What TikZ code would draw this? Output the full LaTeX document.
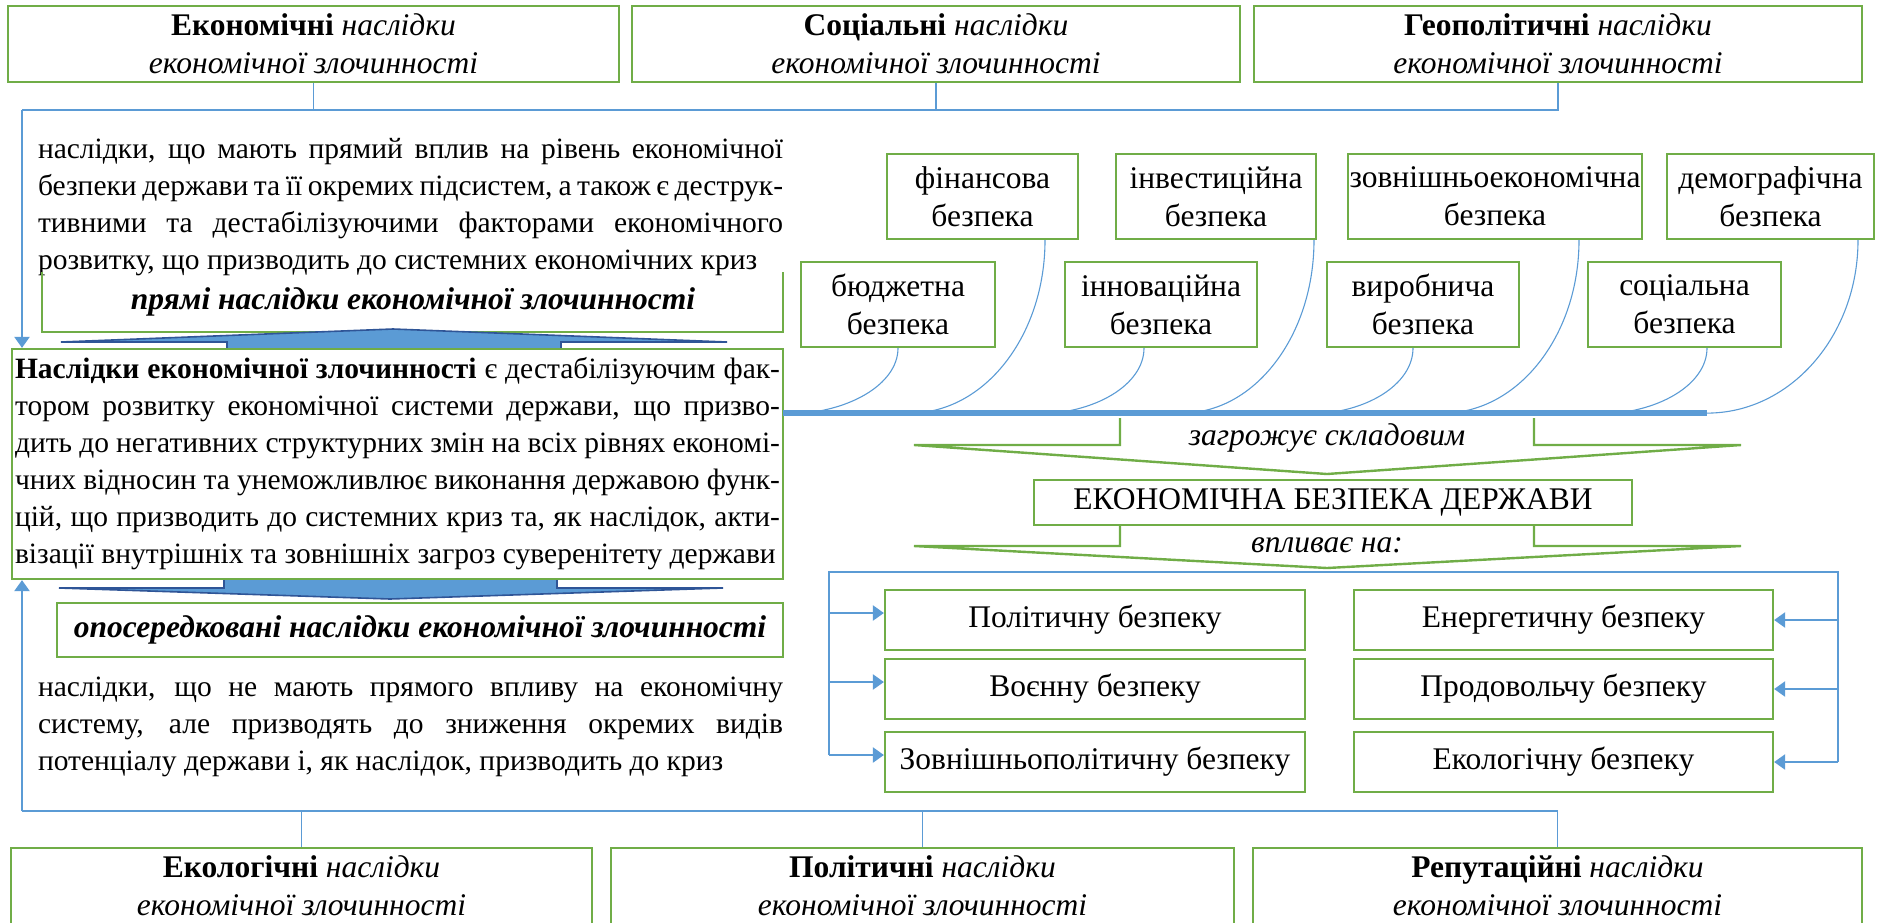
\documentclass[tikz,border=0pt]{standalone}
\usepackage{fontspec}
\setmainfont{Liberation Serif}
\usepackage{tikz}
\usetikzlibrary{arrows.meta,calc,positioning}
\definecolor{grn}{HTML}{70AD47}
\definecolor{blu}{HTML}{5B9BD5}
\definecolor{navy}{HTML}{2F5597}
\newcommand{\boxfs}{\fontsize{31.5}{38}\selectfont}
\newcommand{\parfs}{\fontsize{29.5}{37}\selectfont}
\newcommand{\jl}[2]{\makebox[#1][s]{#2}}
\tikzset{
  gbox/.style={draw=grn,line width=2.2pt,fill=white,align=center,inner sep=1pt,font=\boxfs},
  conn/.style={blu,line width=1.4pt},
  arr/.style={blu,line width=2.2pt,-{Triangle[length=11pt,width=15pt]}},
  spine/.style={blu,line width=6pt},
  branch/.style={blu,line width=1.1pt},
  gshape/.style={grn,line width=2.4pt,line join=miter},
  bshape/.style={fill=blu,draw=navy,line width=1.6pt}
}

\begin{document}
\begin{tikzpicture}[x=1pt,y=-1pt]
 \useasboundingbox (0,0) rectangle (1881,922);
 \node[gbox,minimum width=611pt,minimum height=76pt] (econ) at (313.5,44)
   {\textbf{Економічні} \textit{наслідки}\\\textit{економічної злочинності}};
 \node[gbox,minimum width=608pt,minimum height=76pt] (social) at (936,44)
   {\textbf{Соціальні} \textit{наслідки}\\\textit{економічної злочинності}};
 \node[gbox,minimum width=608pt,minimum height=76pt] (geo) at (1558,44)
   {\textbf{Геополітичні} \textit{наслідки}\\\textit{економічної злочинності}};

 \node[align=left,inner sep=0,font=\parfs] (directtxt) at (410.5,207)
   {\jl{745pt}{наслідки, що мають прямий вплив на рівень економічної}\\
    \jl{745pt}{безпеки держави та її окремих підсистем, а також є деструк-}\\
    \jl{745pt}{тивними та дестабілізуючими факторами економічного}\\
    розвитку, що призводить до системних економічних криз};
 \draw[grn,line width=2.2pt] (42,272) -- (42,332) -- (783,332) -- (783,272);
 \node[font=\boxfs\bfseries\itshape] (directlbl) at (413,302) {прямі наслідки економічної злочинності};

 \filldraw[bshape] (227,349) -- (227,342) -- (61,342) -- (393,329) -- (727,342) -- (561,342) -- (561,349) -- cycle;
 \filldraw[bshape] (224,579) -- (224,588) -- (59,588) -- (390,599) -- (723,588) -- (557,588) -- (557,579) -- cycle;

 \node[gbox,align=left,inner xsep=3pt,inner ysep=0pt,minimum width=771pt,minimum height=230pt,font=\parfs] (main) at (397.5,464)
   {\jl{765pt}{\textbf{Наслідки економічної злочинності} є дестабілізуючим фак-}\\
    \jl{765pt}{тором розвитку економічної системи держави, що призво-}\\
    \jl{765pt}{дить до негативних структурних змін на всіх рівнях економі-}\\
    \jl{765pt}{чних відносин та унеможливлює виконання державою функ-}\\
    \jl{765pt}{цій, що призводить до системних криз та, як наслідок, акти-}\\
    візації внутрішніх та зовнішніх загроз суверенітету держави};

 \node[gbox,minimum width=726pt,minimum height=54pt,font=\boxfs\bfseries\itshape] (indirectlbl) at (420,630)
   {опосередковані наслідки економічної злочинності};
 \node[align=left,inner sep=0,font=\parfs] (indirecttxt) at (410.5,727)
   {\jl{745pt}{наслідки, що не мають прямого впливу на економічну}\\
    \jl{745pt}{систему, але призводять до зниження окремих видів}\\
    потенціалу держави і, як наслідок, призводить до криз};

 \node[gbox,minimum width=581pt,minimum height=76pt] (ecol) at (301.5,886)
   {\textbf{Екологічні} \textit{наслідки}\\\textit{економічної злочинності}};
 \node[gbox,minimum width=623pt,minimum height=76pt] (polit) at (922.5,886)
   {\textbf{Політичні} \textit{наслідки}\\\textit{економічної злочинності}};
 \node[gbox,minimum width=609pt,minimum height=76pt] (reput) at (1557.5,886)
   {\textbf{Репутаційні} \textit{наслідки}\\\textit{економічної злочинності}};

 \coordinate (tl) at (22,110);
 \coordinate (bl) at (22,811);
 \draw[conn] (econ.south) -- (econ.south |- tl);
 \draw[conn] (social.south) -- (social.south |- tl);
 \draw[conn] (tl) -- (tl -| geo.south) -- (geo.south);
 \draw[arr] (tl) -- (tl |- main.north);
 \draw[conn] (ecol.north) -- (ecol.north |- bl);
 \draw[conn] (polit.north) -- (polit.north |- bl);
 \draw[conn] (bl) -- (bl -| reput.north) -- (reput.north);
 \draw[arr] (bl) -- (bl |- main.south);

 \node[gbox,minimum width=191pt,minimum height=85pt] (fin) at (982.5,196.5) {фінансова\\безпека};
 \node[gbox,minimum width=200pt,minimum height=85pt] (invest) at (1216,196.5) {інвестиційна\\безпека};
 \node[gbox,minimum width=294pt,minimum height=85pt] (extecon) at (1495,196.5) {зовнішньоекономічна\\безпека};
 \node[gbox,minimum width=207pt,minimum height=85pt] (demog) at (1770.5,196.5) {демографічна\\безпека};
 \node[gbox,minimum width=194pt,minimum height=85pt] (budget) at (898,304.5) {бюджетна\\безпека};
 \node[gbox,minimum width=192pt,minimum height=85pt] (innov) at (1161,304.5) {інноваційна\\безпека};
 \node[gbox,minimum width=192pt,minimum height=85pt] (prod) at (1423,304.5) {виробнича\\безпека};
 \node[gbox,minimum width=193pt,minimum height=85pt] (soc) at (1684.5,304.5) {соціальна\\безпека};

 \coordinate (spl) at (783,413);
 \coordinate (spr) at (1707,413);
 \draw[branch] (budget.south) arc[start angle=0,end angle=90,x radius=113,y radius=66];
 \draw[branch] ([xshift=62.5pt]fin.south) arc[start angle=0,end angle=90,x radius=135,y radius=173];
 \draw[branch] ([xshift=-17pt]innov.south) arc[start angle=0,end angle=90,x radius=109,y radius=66];
 \draw[branch] ([xshift=98pt]invest.south) arc[start angle=0,end angle=90,x radius=132,y radius=173];
 \draw[branch] ([xshift=-10pt]prod.south) arc[start angle=0,end angle=90,x radius=106,y radius=66];
 \draw[branch] ([xshift=84pt]extecon.south) arc[start angle=0,end angle=90,x radius=136,y radius=173];
 \draw[branch] ([xshift=22.5pt]soc.south) arc[start angle=0,end angle=90,x radius=110,y radius=66];
 \draw[branch] ([xshift=87.5pt]demog.south) arc[start angle=0,end angle=90,x radius=151,y radius=173];
 \draw[spine] (spl) -- (spr);

 \draw[gshape] (1120,418) -- (1120,445) -- (914,445) -- (1327,474) -- (1741,445) -- (1534,445) -- (1534,418);
 \node[font=\boxfs\itshape] (threat) at (1327,438) {загрожує складовим};
 \node[gbox,minimum width=598pt,minimum height=45pt] (esd) at (1333,502.5) {ЕКОНОМІЧНА БЕЗПЕКА ДЕРЖАВИ};
 \draw[gshape] (1120,525) -- (1120,546) -- (914,546) -- (1327,568) -- (1741,546) -- (1534,546) -- (1534,525);
 \node[font=\boxfs\itshape] (affects) at (1327,545) {впливає на:};

 \node[gbox,minimum width=420pt,minimum height=60pt] (polsec) at (1095,620) {Політичну безпеку};
 \node[gbox,minimum width=420pt,minimum height=60pt] (milsec) at (1095,689) {Воєнну безпеку};
 \node[gbox,minimum width=420pt,minimum height=60pt] (forsec) at (1095,762) {Зовнішньополітичну безпеку};
 \node[gbox,minimum width=419pt,minimum height=60pt] (enersec) at (1563.5,620) {Енергетичну безпеку};
 \node[gbox,minimum width=419pt,minimum height=60pt] (foodsec) at (1563.5,689) {Продовольчу безпеку};
 \node[gbox,minimum width=419pt,minimum height=60pt] (ecosec) at (1563.5,762) {Екологічну безпеку};

 \coordinate (fl) at (829,572);
 \coordinate (fr) at (1838,572);
 \draw[conn] ([yshift=7pt]fl |- forsec.west) -- (fl) -- (fr) -- (fr |- ecosec.east);
 \draw[arr] ([yshift=7pt]fl |- polsec.west) -- ([yshift=7pt]polsec.west);
 \draw[arr] ([yshift=7pt]fl |- milsec.west) -- ([yshift=7pt]milsec.west);
 \draw[arr] ([yshift=7pt]fl |- forsec.west) -- ([yshift=7pt]forsec.west);
 \draw[arr] (fr |- enersec.east) -- (enersec.east);
 \draw[arr] (fr |- foodsec.east) -- (foodsec.east);
 \draw[arr] (fr |- ecosec.east) -- (ecosec.east);
\end{tikzpicture}
\end{document}
